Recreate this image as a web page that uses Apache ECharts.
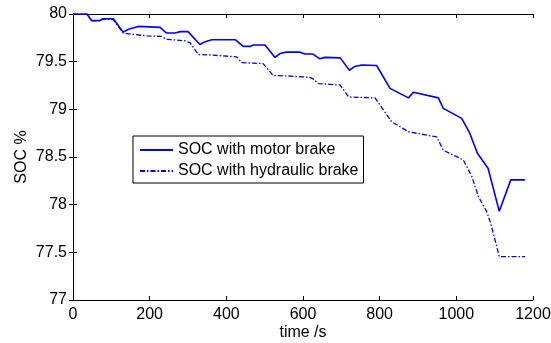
<!DOCTYPE html>
<html>
<head>
<meta charset="utf-8">
<script src="https://cdn.jsdelivr.net/npm/echarts@6/dist/echarts.min.js"></script>
<style>html,body{margin:0;padding:0;background:#fff;}#c{width:551px;height:343px;}</style>
</head>
<body>
<div id="c"></div>
<script>
var xTicks = [0, 200, 400, 600, 800, 1000, 1200];
var yTicks = [77, 77.5, 78, 78.5, 79, 79.5, 80];
var motorName = 'SOC with motor brake';
var hydName = 'SOC with hydraulic brake';
var motorTime = [0, 36, 49, 70, 78, 105, 131, 145, 170, 227, 244, 266, 280, 300, 331, 345, 362, 423, 444, 462, 470, 501, 527, 540, 557, 592, 605, 626, 644, 657, 697, 721, 735, 753, 792, 827, 875, 888, 953, 966, 1014, 1035, 1055, 1083, 1112, 1142, 1179];
var motorSOC  = [80, 80, 79.93, 79.93, 79.95, 79.95, 79.81, 79.84, 79.87, 79.86, 79.80, 79.80, 79.815, 79.815, 79.68, 79.71, 79.73, 79.73, 79.66, 79.66, 79.675, 79.675, 79.545, 79.585, 79.60, 79.60, 79.58, 79.58, 79.53, 79.545, 79.54, 79.41, 79.45, 79.465, 79.46, 79.22, 79.12, 79.18, 79.12, 79.01, 78.905, 78.75, 78.54, 78.38, 77.93, 78.26, 78.26];
var hydTime = [0, 36, 49, 70, 78, 105, 131, 150, 192, 231, 244, 290, 305, 327, 360, 427, 440, 496, 522, 560, 618, 628, 640, 697, 719, 788, 831, 875, 949, 966, 1018, 1040, 1058, 1079, 1090, 1112, 1179];
var hydSOC  = [80, 80, 79.93, 79.93, 79.945, 79.94, 79.80, 79.79, 79.77, 79.765, 79.735, 79.72, 79.70, 79.575, 79.57, 79.55, 79.49, 79.48, 79.355, 79.35, 79.335, 79.315, 79.27, 79.255, 79.13, 79.12, 78.87, 78.765, 78.71, 78.57, 78.47, 78.30, 78.08, 77.93, 77.80, 77.455, 77.455];

function pairs(t, v) { return t.map(function (x, i) { return [x, v[i]]; }); }
var FONT = '"Liberation Sans", Arial, sans-serif';
var FS = 16;
var blue = '#0000ff';
var chart = echarts.init(document.getElementById('c'), null, {renderer: 'canvas'});
var axisLine = {show: true, lineStyle: {color: '#000', width: 1}};
chart.setOption({
  animation: false,
  backgroundColor: '#fff',
  grid: {left: 73, right: 18, top: 14, bottom: 43, show: false, containLabel: false, outerBoundsMode: 'none'},
  legend: {
    show: true,
    orient: 'vertical',
    left: 133, top: 136,
    padding: [6, 5, 4, 6],
    itemGap: 5,
    itemWidth: 33, itemHeight: 2,
    itemStyle: {opacity: 0},
    borderColor: '#000', borderWidth: 1, backgroundColor: '#fff',
    textStyle: {fontFamily: FONT, fontSize: FS, color: '#000'},
    data: [motorName, hydName]
  },
  xAxis: [{
    type: 'value', min: xTicks[0], max: xTicks[xTicks.length - 1], interval: 200,
    position: 'bottom',
    name: 'time /s', nameLocation: 'middle', nameGap: 25, nameMoveOverlap: false,
    nameTextStyle: {fontFamily: FONT, fontSize: FS, color: '#000'},
    axisLine: axisLine,
    axisTick: {show: true, inside: true, length: 4, lineStyle: {color: '#000'}},
    axisLabel: {fontFamily: FONT, fontSize: FS, color: '#000', margin: 7,
      formatter: function (v) { return String(v); }},
    splitLine: {show: false}
  }, {
    type: 'value', min: xTicks[0], max: xTicks[xTicks.length - 1], interval: 200,
    position: 'top',
    axisLine: axisLine,
    axisTick: {show: true, inside: true, length: 4, lineStyle: {color: '#000'}},
    axisLabel: {show: false},
    splitLine: {show: false}
  }],
  yAxis: [{
    type: 'value', min: yTicks[0], max: yTicks[yTicks.length - 1], interval: 0.5,
    position: 'left',
    name: 'SOC %', nameLocation: 'middle', nameGap: 43, nameMoveOverlap: false,
    nameTextStyle: {fontFamily: FONT, fontSize: FS, color: '#000'},
    axisLine: axisLine,
    axisTick: {show: true, inside: true, length: 4, lineStyle: {color: '#000'}},
    axisLabel: {fontFamily: FONT, fontSize: FS, color: '#000', margin: 6,
      formatter: function (v) { return String(v); }},
    splitLine: {show: false}
  }, {
    type: 'value', min: yTicks[0], max: yTicks[yTicks.length - 1], interval: 0.5,
    position: 'right',
    axisLine: axisLine,
    axisTick: {show: true, inside: true, length: 4, lineStyle: {color: '#000'}},
    axisLabel: {show: false},
    splitLine: {show: false}
  }],
  series: [{
    name: motorName, type: 'line', data: pairs(motorTime, motorSOC),
    symbol: 'none', showSymbol: false,
    lineStyle: {color: blue, width: 1.6, type: 'solid'},
    itemStyle: {color: blue}
  }, {
    name: hydName, type: 'line', data: pairs(hydTime, hydSOC),
    symbol: 'none', showSymbol: false,
    lineStyle: {color: blue, width: 1.3, type: [5, 2, 1.5, 2]},
    itemStyle: {color: blue}
  }]
});
</script>
</body>
</html>
